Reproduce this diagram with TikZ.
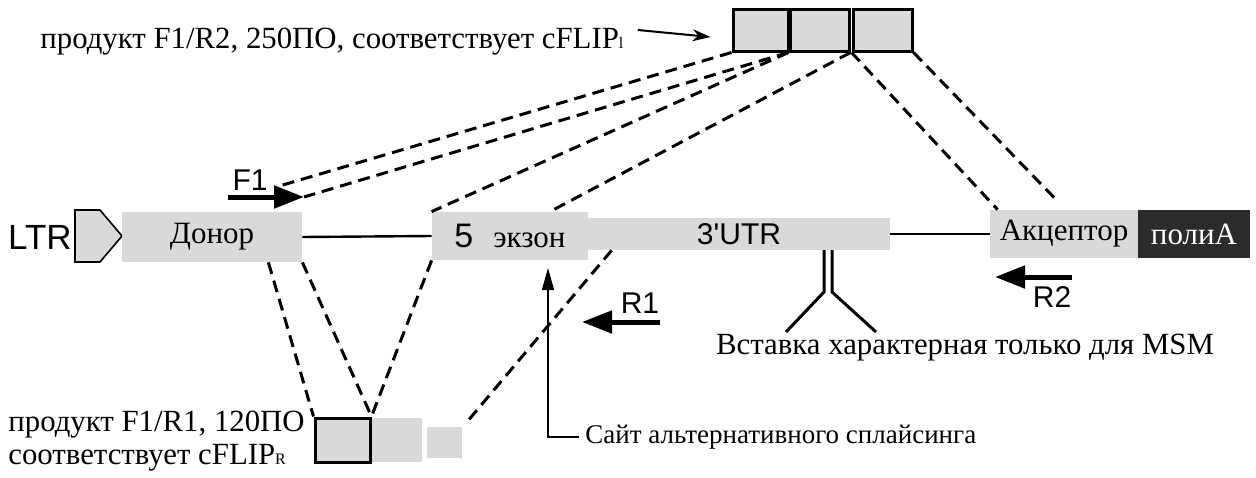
\documentclass[tikz,border=0pt]{standalone}
\usepackage{fontspec}
\setmainfont{Liberation Serif}
\setsansfont{Liberation Sans}
\usetikzlibrary{arrows.meta}
\definecolor{grisclaro}{HTML}{D9D9D9}
\definecolor{grisoscuro}{HTML}{2B2B2B}
\tikzset{
  caja/.style={fill=grisclaro, inner sep=0pt, font=\fontsize{15.5}{18}\selectfont},
  cajab/.style={caja, draw, line width=1.5pt},
  rayas/.style={line width=1.5pt, dash pattern=on 6pt off 3.5pt},
  cebador/.style={line width=2.5pt, -{Triangle[length=15pt,width=11pt]}},
  sans/.style={font=\sffamily\fontsize{15}{17}\selectfont, inner sep=0pt},
  texto/.style={font=\fontsize{15.4}{16.5}\selectfont, inner sep=0pt},
}
\begin{document}
\begin{tikzpicture}[x=0.5pt, y=-0.5pt]
    \useasboundingbox (0,0) rectangle (1256,477);

    % Producto F1/R2
    \node[cajab, minimum width=27.5pt, minimum height=21pt] (t1) at (760.5,30) {};
    \node[cajab, minimum width=29.5pt, minimum height=21pt] (t2) at (819.5,30) {};
    \node[cajab, minimum width=29.5pt, minimum height=21pt] (t3) at (882.5,30) {};
    \node[texto, anchor=west] (ptop) at (40,42) {продукт F1/R2, 250ПО, соответствует cFLIP{\footnotesize l}};
    \draw[line width=1pt, -{Stealth[length=9pt,width=6pt]}] ([xshift=7pt, yshift=6pt]ptop.east) -- ([xshift=-10.5pt, yshift=-3.5pt]t1.west);

    % Constructo
    \node[sans, font=\sffamily\fontsize{17.5}{19}\selectfont] (ltr) at (40,237) {LTR};
    \draw[fill=grisclaro, line width=0.8pt] (75,210) -- (100,210) -- (122,236) -- (100,262) -- (75,262) -- cycle;
    \node[caja, minimum width=90pt, minimum height=25pt] (donor) at (212,237) {Донор};
    \node[caja, minimum width=78pt, minimum height=24pt] (exon5) at (510,236) {{\sffamily\fontsize{17}{19}\selectfont 5}\hspace{10pt}экзон};
    \node[caja, minimum width=151pt, minimum height=16pt] (utr) at (739,234) {\sffamily\fontsize{15}{17}\selectfont 3\textquotesingle UTR};
    \node[caja, minimum width=74pt, minimum height=24pt] (acc) at (1064,234) {Акцептор};
    \node[caja, fill=grisoscuro, text=white, minimum width=56pt, minimum height=24pt] (polya) at (1194,234) {полиА};
    \draw[line width=1.2pt] (donor.east) -- (exon5.west);
    \draw[line width=1.2pt] (utr.east) -- (acc.west);

    % Cebadores
    \coordinate (f1a) at (228,197);
    \coordinate (f1b) at (304,197);
    \coordinate (f1h) at (276,187);
    \draw[cebador] (f1a) -- (f1b);
    \node[sans] (lf1) at (250,180) {F1};
    \coordinate (r1a) at (660,322);
    \coordinate (r1b) at (582,322);
    \draw[cebador] (r1a) -- (r1b);
    \node[sans] (lr1) at (640,303) {R1};
    \coordinate (r2a) at (1072,277);
    \coordinate (r2b) at (995,277);
    \draw[cebador] (r2a) -- (r2b);
    \node[sans] (lr2) at (1052,297) {R2};

    % Inserción MSM
    \draw[line width=1.5pt] (824,250) -- (824,292) -- (786,332);
    \draw[line width=1.5pt] (832,250) -- (832,292) -- (876,332);
    \node[texto] (msm) at (965,348) {Вставка характерная только для MSM};

    % Sitio de splicing alternativo
    \coordinate (corte) at (548,268);
    \node[font=\fontsize{13.5}{15}\selectfont, anchor=west, inner sep=0pt] (sitio) at (585,437) {Сайт альтернативного сплайсинга};
    \draw[line width=0.7pt, -{Triangle[length=11pt,width=6pt]}] ([xshift=-3pt]sitio.west) -- (548,437) -- (corte);

    % Producto F1/R1
    \node[cajab, minimum width=27.5pt, minimum height=22pt] (b1) at (342.5,440) {};
    \node[caja, minimum width=25pt, minimum height=22pt] (b2) at (397,440) {};
    \node[caja, minimum width=17.5pt, minimum height=15.5pt] (b3) at (444.5,442.5) {};
    \node[texto, anchor=west, align=left] (pbot) at (8,441) {продукт F1/R1, 120ПО\\соответствует cFLIP{\footnotesize R}};

    % Líneas de correspondencia
    \draw[rayas] (t1.south west) -- (f1h);
    \draw[rayas] (t2.south west) -- (f1b);
    \draw[rayas] (t2.south west) -- (exon5.north west);
    \draw[rayas] (t2.south east) -- ([xshift=20pt]exon5.north);
    \draw[rayas] (t3.south west) -- ([xshift=4pt]acc.north west);
    \draw[rayas] (t3.south east) -- ([xshift=-3pt, yshift=4pt]acc.north);
    \draw[rayas] ([xshift=-17pt]donor.south east) -- (b1.north west);
    \draw[rayas] (donor.south east) -- (b1.north east);
    \draw[rayas] (exon5.south west) -- (b1.north east);
    \draw[rayas] ([xshift=12pt]utr.south west) -- ([xshift=2pt, yshift=2pt]b3.north east);

\end{tikzpicture}
\end{document}
